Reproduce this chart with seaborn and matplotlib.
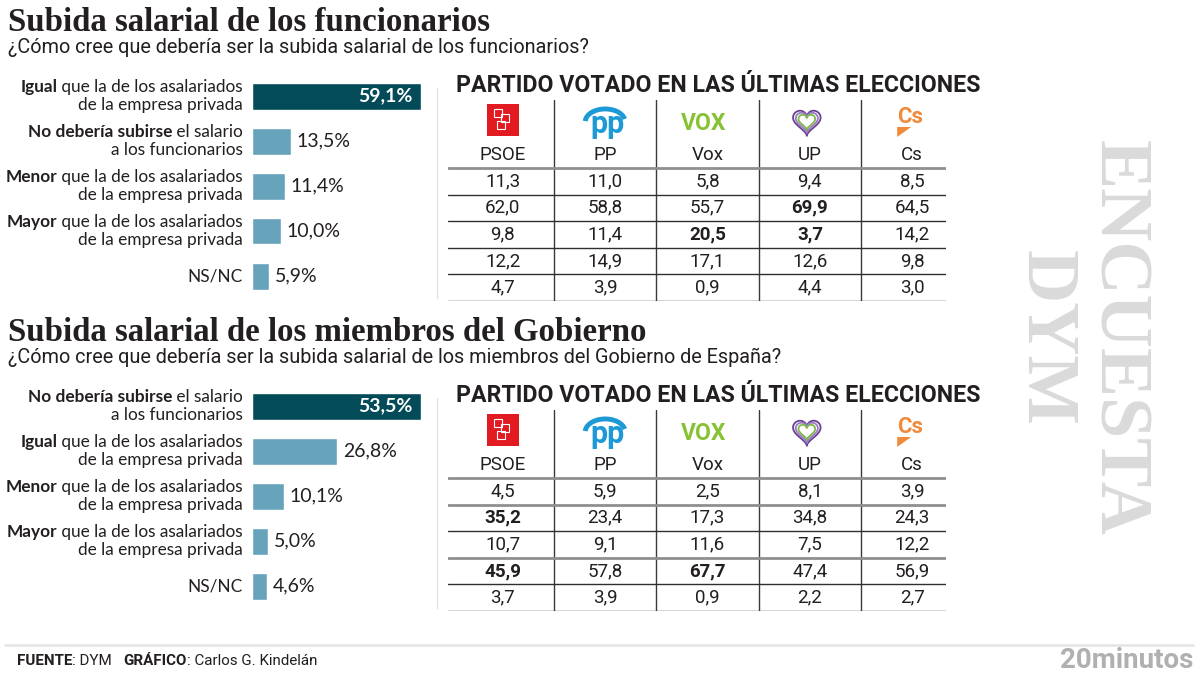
import numpy as np
import pandas as pd
import seaborn as sns
import matplotlib.pyplot as plt
from matplotlib.patches import Rectangle, Arc, Polygon
from matplotlib.lines import Line2D

W, H = 1201, 676
TXT = '#231f20'
DARK = '#034b59'
LIGHT = '#67a3bb'

parties = ['PSOE', 'PP', 'Vox', 'UP', 'Cs']

title1 = 'Subida salarial de los funcionarios'
subtitle1 = '¿Cómo cree que debería ser la subida salarial de los funcionarios?'
bold1 = ['Igual', 'No debería subirse', 'Menor', 'Mayor', '']
rest1 = [' que la de los asalariados', ' el salario', ' que la de los asalariados',
         ' que la de los asalariados', 'NS/NC']
second1 = ['de la empresa privada', 'a los funcionarios', 'de la empresa privada',
           'de la empresa privada', '']
vals1 = [59.1, 13.5, 11.4, 10.0, 5.9]
table1 = [[11.3, 11.0, 5.8, 9.4, 8.5],
          [62.0, 58.8, 55.7, 69.9, 64.5],
          [9.8, 11.4, 20.5, 3.7, 14.2],
          [12.2, 14.9, 17.1, 12.6, 9.8],
          [4.7, 3.9, 0.9, 4.4, 3.0]]
table1_bold = [(1, 3), (2, 2), (2, 3)]
table1_gray = [0]

title2 = 'Subida salarial de los miembros del Gobierno'
subtitle2 = '¿Cómo cree que debería ser la subida salarial de los miembros del Gobierno de España?'
bold2 = ['No debería subirse', 'Igual', 'Menor', 'Mayor', '']
rest2 = [' el salario', ' que la de los asalariados', ' que la de los asalariados',
         ' que la de los asalariados', 'NS/NC']
second2 = ['a los funcionarios', 'de la empresa privada', 'de la empresa privada',
           'de la empresa privada', '']
vals2 = [53.5, 26.8, 10.1, 5.0, 4.6]
table2 = [[4.5, 5.9, 2.5, 8.1, 3.9],
          [35.2, 23.4, 17.3, 34.8, 24.3],
          [10.7, 9.1, 11.6, 7.5, 12.2],
          [45.9, 57.8, 67.7, 47.4, 56.9],
          [3.7, 3.9, 0.9, 2.2, 2.7]]
table2_bold = [(1, 0), (3, 0), (3, 2)]
table2_gray = [0, 1, 3]

header = 'PARTIDO VOTADO EN LAS ÚLTIMAS ELECCIONES'

sns.set_theme(style='white')
plt.rcParams['font.family'] = ['Roboto', 'DejaVu Sans']

fig = plt.figure(figsize=(W / 100, H / 100), dpi=100)
fig.patch.set_facecolor('white')
renderer = fig.canvas.get_renderer()


def add_axes_px(x0, y0, x1, y1):
    return fig.add_axes([x0 / W, 1 - y1 / H, (x1 - x0) / W, (y1 - y0) / H])


def fit_size(s, target, base=12, **kw):
    # font size that gives the text the width it has in the reference
    t = fig.text(0, 0, s, fontsize=base, **kw)
    w = t.get_window_extent(renderer).width
    t.remove()
    return base * target / w


def fmt(v):
    return f'{v:.1f}'.replace('.', ',')


TITLE_FS = fit_size(title1, 479, family='Liberation Serif', weight='bold')
SUB_FS = fit_size(subtitle1, 583)
HEAD_FS = fit_size(header, 523, weight='bold')
LAB_FS = fit_size('Igual que la de los asalariados', 223, family=['Lato', 'DejaVu Sans'])


def heart(ax, cx, cy, sx, sy, color, lw):
    t = np.linspace(0, 2 * np.pi, 200)
    hx = 16 * np.sin(t) ** 3
    hy = 13 * np.cos(t) - 5 * np.cos(2 * t) - 2 * np.cos(3 * t) - np.cos(4 * t)
    ax.add_patch(Polygon(np.column_stack([cx + hx * sx, cy - hy * sy]), closed=True,
                         fill=False, ec=color, lw=lw))


def draw_logos(ax, y):
    ux, uy = 1 / 102.3, 1 / 26.6  # data units per pixel
    # PSOE
    ax.add_patch(Rectangle((-16 * ux, y - 16 * uy), 32 * ux, 32 * uy, color='#e21b22', lw=0))
    for dx, dy in [(-5, -7), (2, -2), (-2, 5)]:
        ax.add_patch(Rectangle(((dx - 4) * ux, y + (dy - 4) * uy), 8 * ux, 8 * uy,
                               fill=False, ec='white', lw=0.8))
    # PP
    ax.text(1.02, y + 4 * uy, 'pp', color='#1d9ad6', fontsize=22, weight='bold',
            ha='center', va='center', family='Roboto')
    ax.add_patch(Arc((1.0, y + 2 * uy), 40 * ux, 26 * uy, theta1=190, theta2=330,
                     color='#1d9ad6', lw=3.5))
    # Vox
    ax.text(1.96, y + 4 * uy, 'VOX', color='#86c232', fontsize=16.5, weight='bold',
            ha='center', va='center', family='Roboto')
    # UP
    for k, c in enumerate(['#6b3f93', '#9a7cc0', '#7fb84e']):
        s = 0.86 - 0.17 * k
        heart(ax, 2.97, y + 1 * uy, s * ux, s * uy, c, 1.3)
    # Cs
    ax.text(3.98, y - 3 * uy, 'Cs', color='#f08a3c', fontsize=16, weight='bold',
            ha='center', va='center', family='Roboto')
    ax.add_patch(Polygon([(3.853, y + 7 * uy), (3.99, y + 7 * uy), (3.853, y + 17 * uy)],
                         closed=True, color='#f08a3c', lw=0))


def draw_section(off, title, subtitle, bolds, rests, seconds, vals, table, tbold, tgray):
    fig.text(8 / W, 1 - (31 + off) / H, title, family='Liberation Serif', weight='bold',
             fontsize=TITLE_FS, color=TXT, va='baseline')
    fig.text(8 / W, 1 - (53 + off) / H, subtitle, fontsize=SUB_FS, color=TXT, va='baseline')

    # bars
    ax = add_axes_px(252, 73.5 + off, 421, 298.5 + off)
    df = pd.DataFrame({'cat': [f'{b}{r}' for b, r in zip(bolds, rests)], 'val': vals})
    colors = [DARK] + [LIGHT] * (len(vals) - 1)
    sns.barplot(data=df, x='val', y='cat', hue='cat', palette=colors, legend=False,
                orient='h', width=0.6, saturation=1, ax=ax)
    ax.set_xlim(0, max(vals))
    ax.set_ylim(len(vals) - 0.5, -0.5)
    ax.axis('off')

    kw = dict(xycoords='data', textcoords='offset pixels', ha='right', va='center',
              fontsize=LAB_FS, color=TXT, family=['Lato', 'DejaVu Sans'])
    for i in range(len(vals)):
        if bolds[i]:
            t = ax.annotate(rests[i], xy=(0, i), xytext=(-9, 9), **kw)
            w = t.get_window_extent(renderer).width
            ax.annotate(bolds[i], xy=(0, i), xytext=(-9 - w, 9), weight='bold', **kw)
            ax.annotate(seconds[i], xy=(0, i), xytext=(-9, -9), **kw)
        else:
            ax.annotate(rests[i], xy=(0, i), xytext=(-9, 0), **kw)

        s = fmt(vals[i]) + '%'
        if i == 0:
            ax.annotate(s, xy=(vals[i], i), xytext=(-8, 0), textcoords='offset pixels',
                        ha='right', va='center', color='white', fontsize=14,
                        weight='bold', family=['Lato', 'DejaVu Sans'])
        else:
            ax.annotate(s, xy=(vals[i], i), xytext=(6, 0), textcoords='offset pixels',
                        ha='left', va='center', color=TXT, fontsize=14,
                        family=['Lato', 'DejaVu Sans'])

    fig.add_artist(Line2D([437 / W, 437 / W], [1 - (88 + off) / H, 1 - (298 + off) / H],
                          color='#e3e3e3', lw=1))

    # table
    fig.text(456 / W, 1 - (92 + off) / H, header, fontsize=HEAD_FS, weight='bold', color=TXT,
             va='baseline')
    tax = add_axes_px(448, 100 + off, 946, 301 + off)
    tax.set_xlim(-0.536, 4.33)
    tax.set_ylim(5, -2.55)
    tax.axis('off')
    n = len(parties)
    for j in range(n - 1):
        tax.axvline(j + 0.5, color='#3a3a3a', lw=1)
    for r in range(len(table) + 1):
        if r in tgray:
            tax.axhline(r, color='#8f8f8f', lw=2)
        else:
            tax.axhline(r, color='#2f2f2f', lw=1)
    for j, p in enumerate(parties):
        tax.text(j, -0.47, p, ha='center', va='center', fontsize=13.5, color=TXT)
    for r, row in enumerate(table):
        for j, v in enumerate(row):
            tax.text(j, r + 0.5, fmt(v), ha='center', va='center', fontsize=13.5, color=TXT,
                     weight='bold' if (r, j) in tbold else 'normal')
    draw_logos(tax, -1.8)


draw_section(0, title1, subtitle1, bold1, rest1, second1, vals1, table1, table1_bold, table1_gray)
draw_section(310, title2, subtitle2, bold2, rest2, second2, vals2, table2, table2_bold, table2_gray)

# watermark
fig.text(1081 / W, 1 - 338 / H, 'ENCUESTA\nDYM', rotation=-90, ha='center', va='center',
         multialignment='center', family='Liberation Serif', weight='bold', fontsize=53,
         color='#dadada', linespacing=1.1)

# footer
fig.add_artist(Line2D([5 / W, 1193 / W], [1 - 645 / H, 1 - 645 / H], color='#e6e6e6', lw=2))
x = 17
for part, wt in [('FUENTE', 'bold'), (': DYM   ', 'normal'), ('GRÁFICO', 'bold'),
                 (': Carlos G. Kindelán', 'normal')]:
    t = fig.text(x / W, 1 - 661 / H, part, fontsize=10.9, weight=wt, color=TXT, va='center')
    x += t.get_window_extent(renderer).width
fig.text(1193 / W, 1 - 660 / H, '20minutos', fontsize=20, weight='bold', color='#b0b0b0',
         ha='right', va='center')

fig.savefig('out.png', dpi=100)
